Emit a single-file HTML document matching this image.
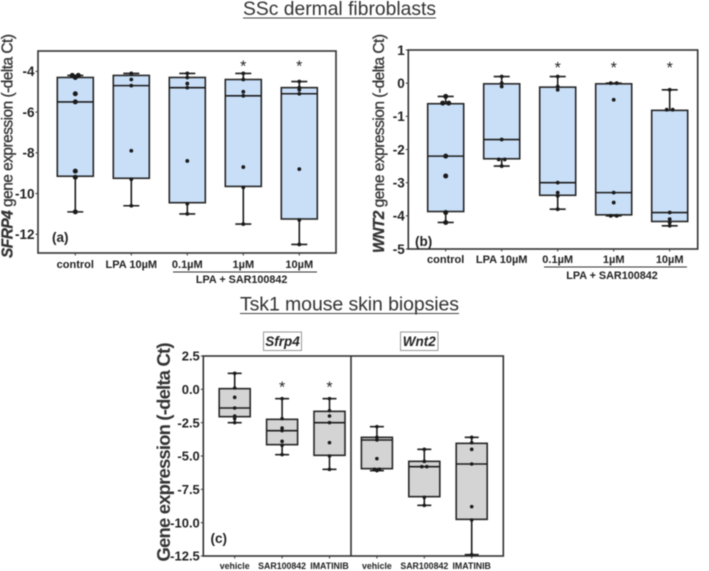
<!DOCTYPE html>
<html>
<head>
<meta charset="utf-8">
<title>Gene expression box plots</title>
<style>
html,body{margin:0;padding:0;background:#fff;width:709px;height:571px;overflow:hidden}
svg{display:block;filter:blur(0.45px)}
text{font-family:"Liberation Sans",sans-serif;fill:#222}
</style>
</head>
<body>
<svg id="figure" width="709" height="571" viewBox="0 0 709 571" xmlns="http://www.w3.org/2000/svg">
  <g id="charts"></g>

  <text x="339.5" y="15" text-anchor="middle" font-size="19.5" textLength="193" lengthAdjust="spacingAndGlyphs" style="fill:#333">SSc dermal  fibroblasts</text>
  <line x1="243" x2="436" y1="18" y2="18" stroke="#444" stroke-width="1.1"/>
  <text x="349.5" y="310.5" text-anchor="middle" font-size="19.5" textLength="219" style="fill:#333">Tsk1 mouse skin biopsies</text>
  <line x1="240" x2="459" y1="313.5" y2="313.5" stroke="#444" stroke-width="1.1"/>

  <text transform="translate(12.5,146) rotate(-90)" text-anchor="middle" font-size="15.5" textLength="224" stroke="#333" stroke-width="0.3" style="fill:#333"><tspan font-style="italic" font-weight="bold">SFRP4</tspan> gene expression (-delta Ct)</text>
  <text transform="translate(384,143.5) rotate(-90)" text-anchor="middle" font-size="15.5" textLength="219" stroke="#333" stroke-width="0.3" style="fill:#333"><tspan font-style="italic" font-weight="bold">WNT2</tspan> gene expression (-delta Ct)</text>
  <text transform="translate(170,452) rotate(-90)" text-anchor="middle" font-size="18.5" font-weight="bold" textLength="219" style="fill:#333">Gene expression (-delta Ct)</text>

  <text x="52" y="242" font-size="13.5" font-weight="bold">(a)</text>
  <text x="415" y="246" font-size="13.5" font-weight="bold">(b)</text>
  <text x="210.5" y="543" font-size="13.5" font-weight="bold">(c)</text>

  <line x1="173" x2="317" y1="272" y2="272" stroke="#333" stroke-width="1"/>
  <text x="241.7" y="283" text-anchor="middle" font-size="10.8" font-weight="bold">LPA + SAR100842</text>
  <line x1="544" x2="687" y1="267" y2="267" stroke="#333" stroke-width="1"/>
  <text x="612" y="279" text-anchor="middle" font-size="10.8" font-weight="bold">LPA + SAR100842</text>

  <rect x="263.5" y="332" width="38" height="18.5" fill="#fff" stroke="#999" stroke-width="1"/>
  <text x="282.5" y="346" text-anchor="middle" font-size="13.5" font-weight="bold" font-style="italic">Sfrp4</text>
  <rect x="400.5" y="332" width="37.5" height="18.5" fill="#fff" stroke="#999" stroke-width="1"/>
  <text x="419.3" y="346" text-anchor="middle" font-size="13.5" font-weight="bold" font-style="italic">Wnt2</text>
</svg>
<script>
// Panel (a) SFRP4
const aCategories = ['control', 'LPA 10µM', '0.1µM', '1µM', '10µM'];
const aTicks = [-4, -6, -8, -10, -12];
const aWhiskerLow = [-10.9, -10.6, -11, -11.5, -12.5];
const aQ1 = [-9.15, -9.25, -10.45, -9.65, -11.25];
const aMedian = [-5.5, -4.7, -4.8, -5.2, -5.1];
const aQ3 = [-4.3, -4.2, -4.3, -4.4, -4.8];
const aWhiskerHigh = [-4.2, -4.1, -4.1, -4.1, -4.5];
const aPoints = [
  [-4.2, -4.2, -4.3, -5.1, -5.5, -8.9, -9.2, -10.9],
  [-4.1, -4.4, -4.7, -7.9, -9.3, -10.6],
  [-4.1, -4.3, -4.6, -4.8, -8.4, -10.5, -11],
  [-4.1, -4.4, -5, -5.2, -8.7, -9.7, -11.5],
  [-4.5, -4.8, -4.9, -5.1, -8.8, -11.3, -12.5]
];
const aSignificant = [false, false, false, true, true];

// Panel (b) WNT2
const bCategories = ['control', 'LPA 10µM', '0.1µM', '1µM', '10µM'];
const bTicks = [1, 0, -1, -2, -3, -4, -5];
const bWhiskerLow = [-4.2, -2.5, -3.8, -4, -4.3];
const bQ1 = [-3.87, -2.28, -3.38, -3.97, -4.17];
const bMedian = [-2.2, -1.7, -3, -3.3, -3.9];
const bQ3 = [-0.62, -0.02, -0.12, -0.02, -0.82];
const bWhiskerHigh = [-0.4, 0.2, 0.2, 0, -0.2];
const bPoints = [
  [-0.4, -0.6, -0.6, -2.2, -2.8, -3.9, -4.2],
  [0.2, 0, -0.1, -1.7, -2.3, -2.3, -2.5],
  [0.2, -0.1, -0.2, -3, -3.3, -3.4, -3.8],
  [0, 0, -0.5, -3.3, -3.6, -4, -4],
  [-0.2, -0.8, -0.8, -3.9, -4.1, -4.2, -4.3]
];
const bSignificant = [false, false, true, true, true];

// Panel (c) Tsk1 mouse biopsies
const cCategories = ['vehicle', 'SAR100842', 'IMATINIB', 'vehicle', 'SAR100842', 'IMATINIB'];
const cTicks = [2.5, 0, -2.5, -5, -7.5, -10, -12.5];
const cWhiskerLow = [-2.5, -4.9, -6, -6.1, -8.7, -12.4];
const cQ1 = [-2.05, -4.15, -4.95, -5.95, -8.05, -9.75];
const cMedian = [-1.4, -3.1, -2.5, -3.8, -5.8, -5.6];
const cQ3 = [0.05, -2.25, -1.65, -3.6, -5.4, -4.05];
const cWhiskerHigh = [1.2, -0.7, -0.7, -2.8, -4.5, -3.6];
const cPoints = [
  [1.2, 0.1, -0.6, -1.4, -2, -2.2, -2.5],
  [-0.7, -2.2, -2.9, -3.1, -3.9, -4.2, -4.9],
  [-0.7, -1.6, -2, -2.5, -4, -5, -6],
  [-2.8, -3.6, -3.8, -5.2, -6, -6, -6.1],
  [-4.5, -5.4, -5.8, -5.8, -8.1, -8.7],
  [-3.6, -4, -4.5, -5.6, -8.8, -9.8, -12.4]
];
const cSignificant = [false, true, true, false, false, false];

const NS = 'http://www.w3.org/2000/svg';
const root = document.getElementById('charts');

function make(tag, attrs, text) {
  const el = document.createElementNS(NS, tag);
  for (const k in attrs) el.setAttribute(k, attrs[k]);
  if (text !== undefined) el.textContent = text;
  root.appendChild(el);
  return el;
}

function drawPanel(p) {
  const yScale = v => p.plotTop + (p.domainTop - v) * (p.plotBottom - p.plotTop) / (p.domainTop - p.domainBottom);
  const xScale = i => p.firstX + i * p.stepX;

  const frame = make('rect', {x: p.plotLeft, y: p.plotTop, width: p.plotRight - p.plotLeft, height: p.plotBottom - p.plotTop, fill: '#fff', stroke: '#333', 'stroke-width': 1.6});
  
  

  p.ticks.forEach(t => {
    const y = yScale(t);
    const tick = make('line', {x1: p.plotLeft - 2.5, x2: p.plotLeft, y1: y, y2: y, stroke: '#333', 'stroke-width': 1});
    
    
    const label = make('text', {x: p.plotLeft - 3.5, y: y + p.tickSize * 0.36, 'text-anchor': 'end', 'font-size': p.tickSize, 'font-weight': 'bold'}, p.format(t));
    
    
  });

  p.categories.forEach((c, i) => {
    const x = xScale(i);
    const tick = make('line', {x1: x, x2: x, y1: p.plotBottom, y2: p.plotBottom + 2.5, stroke: '#333', 'stroke-width': 1});
    
    
    const label = make('text', {x: x, y: p.xLabelY, 'text-anchor': 'middle', 'font-size': p.xSize, 'font-weight': 'bold'}, c);
    
    

    const whisker = make('line', {x1: x, x2: x, y1: yScale(p.high[i]), y2: yScale(p.low[i]), stroke: '#1c1c1c', 'stroke-width': 1.6});
    
    
    [p.high[i], p.low[i]].forEach(v => {
      const cap = make('line', {x1: x - p.capHalf, x2: x + p.capHalf, y1: yScale(v), y2: yScale(v), stroke: '#1c1c1c', 'stroke-width': 1.6});
      
      
    });

    const box = make('rect', {x: x - p.boxHalf, y: yScale(p.q3[i]), width: p.boxHalf * 2, height: yScale(p.q1[i]) - yScale(p.q3[i]), fill: p.fill, stroke: '#262626', 'stroke-width': 1.6});
    
    
    const med = make('line', {x1: x - p.boxHalf, x2: x + p.boxHalf, y1: yScale(p.median[i]), y2: yScale(p.median[i]), stroke: '#1c1c1c', 'stroke-width': 1.6});
    
    

    const pts = p.points[i];
    pts.forEach((v, j) => {
      const dup = pts.indexOf(v) !== pts.lastIndexOf(v);
      const shift = dup ? (pts.indexOf(v) === j ? -p.spread : p.spread) : 0;
      const dot = make('circle', {cx: x + shift, cy: yScale(v), r: i === 0 ? p.firstDotR : p.dotR, fill: '#1a1a1a'});
      
      
    });

    if (p.significant[i]) {
      const star = make('text', {x: x, y: p.starY, 'text-anchor': 'middle', 'font-size': 16}, '*');
      
      
    }
  });
}

drawPanel({
  id: 'panel-a', plotLeft: 38, plotRight: 336, plotTop: 51, plotBottom: 253,
  domainTop: -3, domainBottom: -12.92, firstX: 75.3, stepX: 56, boxHalf: 18, capHalf: 8,
  ticks: aTicks, categories: aCategories, low: aWhiskerLow, q1: aQ1, median: aMedian, q3: aQ3, high: aWhiskerHigh,
  points: aPoints, significant: aSignificant, fill: '#c9dff8', tickSize: 13.5, xSize: 11, xLabelY: 268,
  dotR: 1.9, firstDotR: 2.5, spread: 3, starY: 71.5, format: t => String(t)
});
drawPanel({
  id: 'panel-b', plotLeft: 408.3, plotRight: 697.7, plotTop: 50, plotBottom: 249,
  domainTop: 1, domainBottom: -5, firstX: 445.7, stepX: 56, boxHalf: 18, capHalf: 8,
  ticks: bTicks, categories: bCategories, low: bWhiskerLow, q1: bQ1, median: bMedian, q3: bQ3, high: bWhiskerHigh,
  points: bPoints, significant: bSignificant, fill: '#c9dff8', tickSize: 13.5, xSize: 11, xLabelY: 263,
  dotR: 1.9, firstDotR: 2.5, spread: 3, starY: 73, format: t => String(t)
});
drawPanel({
  id: 'panel-c', plotLeft: 203.3, plotRight: 503.3, plotTop: 356, plotBottom: 556,
  domainTop: 2.5, domainBottom: -12.5, firstX: 234.7, stepX: 47.4, boxHalf: 15.5, capHalf: 7,
  ticks: cTicks, categories: cCategories, low: cWhiskerLow, q1: cQ1, median: cMedian, q3: cQ3, high: cWhiskerHigh,
  points: cPoints, significant: cSignificant, fill: '#d4d4d4', tickSize: 13, xSize: 8.8, xLabelY: 569,
  dotR: 1.8, firstDotR: 1.8, spread: 2.5, starY: 392.5, format: t => t.toFixed(1)
});

const divider = make('line', {x1: 351, x2: 351, y1: 356, y2: 556, stroke: '#333', 'stroke-width': 1.6});


</script>
</body>
</html>
